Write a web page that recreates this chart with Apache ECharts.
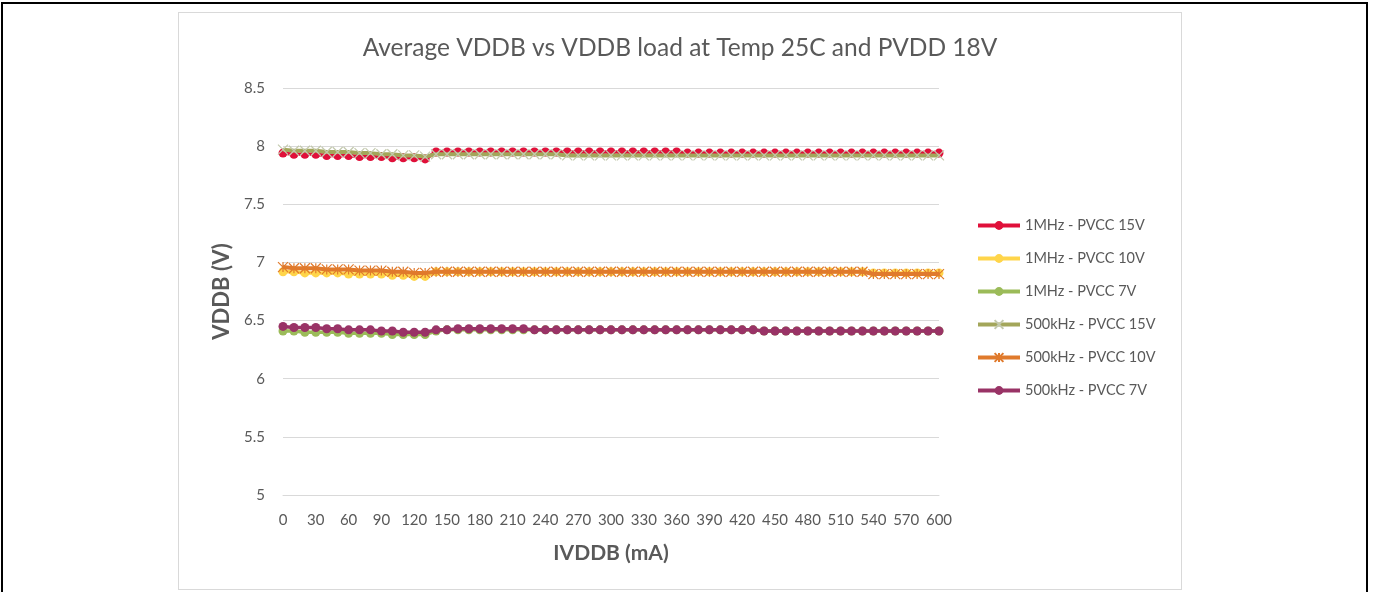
<!DOCTYPE html>
<html>
<head>
<meta charset="utf-8">
<script src="https://cdn.jsdelivr.net/npm/echarts@6/dist/echarts.min.js"></script>
<style>
  html, body { margin: 0; padding: 0; background: #fff; }
  #frame {
    position: absolute; left: 1px; top: 2px; width: 1367px; height: 600px;
    border: 2px solid #000; box-sizing: border-box;
  }
  #chart {
    position: absolute; left: 178px; top: 12px; width: 1004px; height: 578px;
    border: 1px solid #d9d9d9; box-sizing: border-box;
  }
</style>
</head>
<body>
<div id="frame"></div>
<div id="chart"></div>
<script>
// load current in mA
const loads = [0, 10, 20, 30, 40, 50, 60, 70, 80, 90, 100, 110, 120, 130, 140, 150, 160, 170, 180, 190,
  200, 210, 220, 230, 240, 250, 260, 270, 280, 290, 300, 310, 320, 330, 340, 350, 360, 370, 380, 390,
  400, 410, 420, 430, 440, 450, 460, 470, 480, 490, 500, 510, 520, 530, 540, 550, 560, 570, 580, 590, 600];

const mhz15 = [7.94, 7.93, 7.93, 7.93, 7.92, 7.92, 7.92, 7.91, 7.91, 7.91, 7.90, 7.90, 7.90, 7.89, 7.95, 7.95, 7.95, 7.95, 7.95, 7.95,
  7.95, 7.95, 7.95, 7.95, 7.95, 7.95, 7.95, 7.95, 7.95, 7.95, 7.95, 7.95, 7.95, 7.95, 7.95, 7.95, 7.95, 7.94, 7.94, 7.94,
  7.94, 7.94, 7.94, 7.94, 7.94, 7.94, 7.94, 7.94, 7.94, 7.94, 7.94, 7.94, 7.94, 7.94, 7.94, 7.94, 7.94, 7.94, 7.94, 7.94, 7.94];
const mhz10 = [6.92, 6.92, 6.91, 6.91, 6.91, 6.91, 6.90, 6.90, 6.90, 6.90, 6.89, 6.89, 6.88, 6.88, 6.92, 6.92, 6.92, 6.92, 6.92, 6.92,
  6.92, 6.92, 6.92, 6.92, 6.92, 6.92, 6.92, 6.92, 6.92, 6.92, 6.92, 6.92, 6.92, 6.92, 6.92, 6.92, 6.92, 6.92, 6.92, 6.92,
  6.92, 6.92, 6.92, 6.92, 6.92, 6.92, 6.92, 6.92, 6.92, 6.92, 6.92, 6.92, 6.92, 6.92, 6.91, 6.91, 6.91, 6.91, 6.91, 6.91, 6.91];
const mhz7 = [6.41, 6.41, 6.40, 6.40, 6.40, 6.40, 6.39, 6.39, 6.39, 6.39, 6.38, 6.38, 6.38, 6.38, 6.41, 6.42, 6.42, 6.42, 6.42, 6.42,
  6.42, 6.42, 6.42, 6.42, 6.42, 6.42, 6.42, 6.42, 6.42, 6.42, 6.42, 6.42, 6.42, 6.42, 6.42, 6.42, 6.42, 6.42, 6.42, 6.42,
  6.42, 6.42, 6.42, 6.42, 6.41, 6.41, 6.41, 6.41, 6.41, 6.41, 6.41, 6.41, 6.41, 6.41, 6.41, 6.41, 6.41, 6.41, 6.41, 6.41, 6.41];
const khz15 = [7.97, 7.96, 7.96, 7.96, 7.95, 7.95, 7.95, 7.94, 7.94, 7.93, 7.93, 7.92, 7.92, 7.91, 7.93, 7.93, 7.93, 7.93, 7.93, 7.93,
  7.93, 7.93, 7.93, 7.93, 7.93, 7.93, 7.92, 7.92, 7.92, 7.92, 7.92, 7.92, 7.92, 7.92, 7.92, 7.92, 7.92, 7.92, 7.92, 7.92,
  7.92, 7.92, 7.92, 7.92, 7.92, 7.92, 7.92, 7.92, 7.92, 7.92, 7.92, 7.92, 7.92, 7.92, 7.92, 7.92, 7.92, 7.92, 7.92, 7.92, 7.92];
const khz10 = [6.96, 6.95, 6.95, 6.95, 6.94, 6.94, 6.94, 6.93, 6.93, 6.93, 6.92, 6.92, 6.91, 6.91, 6.92, 6.92, 6.92, 6.92, 6.92, 6.92,
  6.92, 6.92, 6.92, 6.92, 6.92, 6.92, 6.92, 6.92, 6.92, 6.92, 6.92, 6.92, 6.92, 6.92, 6.92, 6.92, 6.92, 6.92, 6.92, 6.92,
  6.92, 6.92, 6.92, 6.92, 6.92, 6.92, 6.92, 6.92, 6.92, 6.92, 6.92, 6.92, 6.92, 6.92, 6.90, 6.90, 6.90, 6.90, 6.90, 6.90, 6.90];
const khz7 = [6.45, 6.44, 6.44, 6.44, 6.43, 6.43, 6.42, 6.42, 6.42, 6.41, 6.41, 6.40, 6.40, 6.40, 6.42, 6.42, 6.43, 6.43, 6.43, 6.43,
  6.43, 6.43, 6.43, 6.42, 6.42, 6.42, 6.42, 6.42, 6.42, 6.42, 6.42, 6.42, 6.42, 6.42, 6.42, 6.42, 6.42, 6.42, 6.42, 6.42,
  6.42, 6.42, 6.42, 6.42, 6.41, 6.41, 6.41, 6.41, 6.41, 6.41, 6.41, 6.41, 6.41, 6.41, 6.41, 6.41, 6.41, 6.41, 6.41, 6.41, 6.41];

const names = ['1MHz - PVCC 15V', '1MHz - PVCC 10V', '1MHz - PVCC 7V',
  '500kHz - PVCC 15V', '500kHz - PVCC 10V', '500kHz - PVCC 7V'];

const chart = echarts.init(document.getElementById('chart'));
const txt = '#595959';
const font = 'Lato, "Open Sans", sans-serif';

const crossPath = 'path://M0,0L10,10M10,0L0,10';
const starPath = 'path://M5,0L5,10M0,0L10,10M10,0L0,10';

// later series sit on top, like the excel original
function dotSeries(name, data, color, z) {
  return {
    name: name, type: 'line', data: data, z: z,
    symbol: 'circle', symbolSize: 9, showAllSymbol: true,
    itemStyle: { color: color },
    lineStyle: { color: color, width: 3.5 },
    animation: false
  };
}

function markSeries(name, data, color, path, markColor, z) {
  return {
    name: name, type: 'line', data: data, z: z,
    symbol: path, symbolSize: 10, showAllSymbol: true,
    itemStyle: { color: color, borderColor: markColor, borderWidth: 1.2 },
    lineStyle: { color: color, width: 4 },
    animation: false
  };
}

chart.setOption({
  textStyle: { fontFamily: font },
  title: {
    text: 'Average VDDB vs VDDB load at Temp 25C and PVDD 18V',
    left: 'center', top: 18,
    textStyle: { fontSize: 24.5, fontWeight: 'normal', color: txt, fontFamily: font }
  },
  legend: {
    orient: 'vertical', left: 792, top: 200,
    itemWidth: 42, itemHeight: 11, itemGap: 18,
    lineStyle: { width: 4 },
    textStyle: { fontSize: 14.5, color: txt, fontFamily: font },
    data: names
  },
  grid: { left: 104, right: 242, top: 75, bottom: 94 },
  xAxis: {
    type: 'category', data: loads, boundaryGap: false,
    name: 'IVDDB (mA)', nameLocation: 'middle', nameGap: 48,
    nameTextStyle: { fontSize: 21, fontWeight: 'bold', color: txt, fontFamily: font },
    axisLine: { lineStyle: { color: '#d9d9d9' } },
    axisTick: { show: false },
    axisLabel: { interval: 2, color: txt, fontSize: 15, margin: 18, fontFamily: font },
    splitLine: { show: false }
  },
  yAxis: {
    type: 'value', min: 5, max: 8.5, interval: 0.5,
    name: 'VDDB (V)', nameLocation: 'middle', nameGap: 50, nameRotate: 90,
    nameTextStyle: { fontSize: 22, fontWeight: 'bold', color: txt, fontFamily: font },
    axisLine: { show: false },
    axisTick: { show: false },
    axisLabel: { color: txt, fontSize: 15, margin: 18, fontFamily: font },
    splitLine: { lineStyle: { color: '#d9d9d9' } }
  },
  series: [
    dotSeries(names[0], mhz15, '#e0103a', 2),
    dotSeries(names[1], mhz10, '#ffd54a', 3),
    dotSeries(names[2], mhz7, '#9bbb59', 4),
    markSeries(names[3], khz15, '#a3a65a', crossPath, '#c3c9ad', 5),
    markSeries(names[4], khz10, '#e07a2c', starPath, '#e07a2c', 6),
    dotSeries(names[5], khz7, '#993366', 7)
  ]
});
</script>
</body>
</html>
